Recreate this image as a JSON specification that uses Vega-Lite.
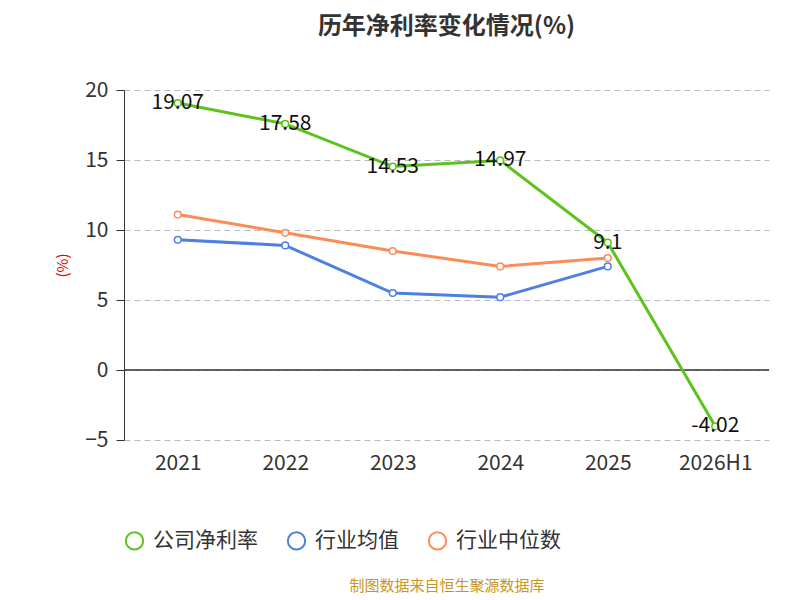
{
"$schema":"https://vega.github.io/schema/vega-lite/v6.json",
"autosize":{"type":"none"},
"width":645,"height":350,
"padding":{"left":124,"top":90,"right":31,"bottom":160},
"background":"white",
"config":{"font":"Noto Sans CJK SC","view":{"stroke":null}},
"title":{"text":"历年净利率变化情况(%)","fontSize":24,"fontWeight":"bold","color":"#333","offset":40,"anchor":"middle"},
"data":{"values":[
{"year":"2021","series":"公司净利率","v":19.07},
{"year":"2022","series":"公司净利率","v":17.58},
{"year":"2023","series":"公司净利率","v":14.53},
{"year":"2024","series":"公司净利率","v":14.97},
{"year":"2025","series":"公司净利率","v":9.1},
{"year":"2026H1","series":"公司净利率","v":-4.02},
{"year":"2021","series":"行业均值","v":9.3},
{"year":"2022","series":"行业均值","v":8.9},
{"year":"2023","series":"行业均值","v":5.5},
{"year":"2024","series":"行业均值","v":5.2},
{"year":"2025","series":"行业均值","v":7.4},
{"year":"2021","series":"行业中位数","v":11.1},
{"year":"2022","series":"行业中位数","v":9.8},
{"year":"2023","series":"行业中位数","v":8.5},
{"year":"2024","series":"行业中位数","v":7.4},
{"year":"2025","series":"行业中位数","v":8.0}
]},
"layer":[
{"mark":{"type":"rule","color":"#333","strokeWidth":1.5},"data":{"values":[{"z":0}]},"encoding":{"y":{"field":"z","type":"quantitative","scale":{"domain":[-5,20],"nice":false,"padding":0,"zero":false}}}},
{"mark":{"type":"line","strokeWidth":3,"point":{"filled":false,"fill":"white","size":45,"strokeWidth":1.5}},
"encoding":{
"x":{"field":"year","type":"ordinal","scale":{"paddingInner":0,"paddingOuter":0},"axis":{"title":"制图数据来自恒生聚源数据库","titleColor":"#c8961e","titleFontSize":15,"titleFontWeight":"normal","titlePadding":105,"labelAngle":0,"labelFontSize":21,"labelColor":"#333","labelPadding":12,"domain":false,"ticks":false}},
"y":{"field":"v","type":"quantitative","scale":{"domain":[-5,20],"nice":false,"padding":0,"zero":false},"axis":{"values":[-5,0,5,10,15,20],"title":"(%)","titleColor":"#e00","titleFontSize":15,"titleFontWeight":"normal","titlePadding":14,"labelFontSize":21,"labelColor":"#333","labelPadding":8,"domain":true,"domainColor":"#333","tickColor":"#333","tickSize":8,"gridDash":[6,4],"gridColor":"#bbb"}},
"color":{"field":"series","type":"nominal","sort":["公司净利率","行业均值","行业中位数"],"scale":{"domain":["公司净利率","行业均值","行业中位数"],"range":["#5bc31c","#4d80e0","#fd8b55"]},"legend":{"title":null,"orient":"none","legendX":0,"legendY":440,"direction":"horizontal","labelFontSize":21,"labelColor":"#333","symbolType":"circle","symbolSize":300,"symbolFillColor":"white","symbolStrokeWidth":2,"columnPadding":25,"labelOffset":8}}
}},
{"transform":[{"filter":"datum.series=='公司净利率'"}],"mark":{"type":"text","fontSize":21,"color":"#111"},
"encoding":{"x":{"field":"year","type":"ordinal"},"y":{"field":"v","type":"quantitative"},"text":{"field":"v","type":"nominal"}}}
]
}
